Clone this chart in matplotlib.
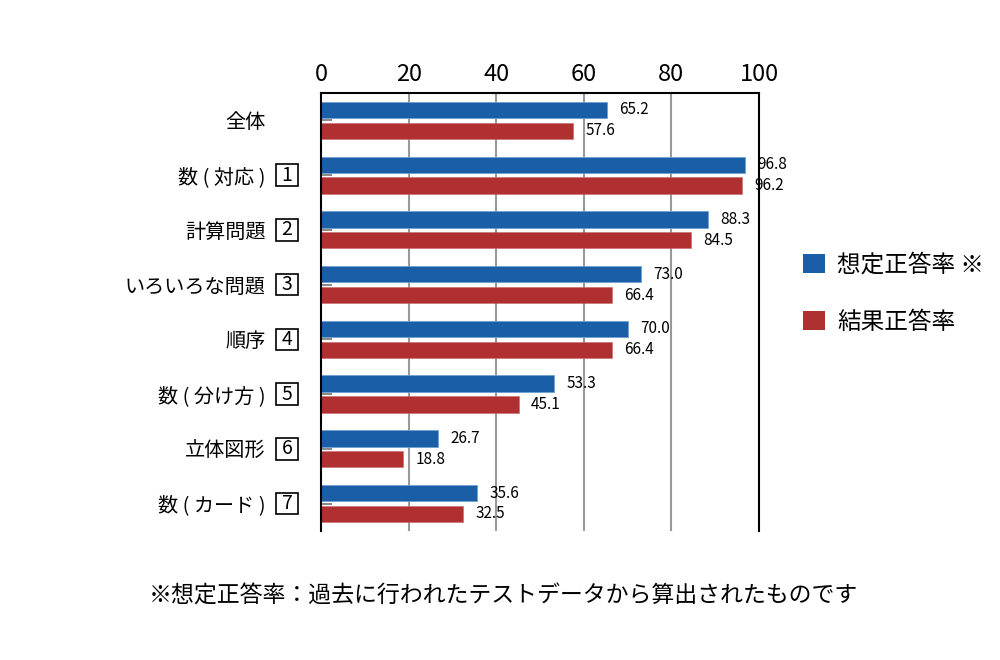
import matplotlib
matplotlib.use("Agg")
import matplotlib.pyplot as plt
from matplotlib.patches import Patch, Rectangle
import numpy as np

plt.rcParams['font.family'] = ['Noto Sans CJK JP', 'DejaVu Sans']

categories = ['全体', '数 ( 対応 )', '計算問題', 'いろいろな問題', '順序', '数 ( 分け方 )', '立体図形', '数 ( カード )']
box_numbers = ['', '1', '2', '3', '4', '5', '6', '7']
expected = [65.2, 96.8, 88.3, 73.0, 70.0, 53.3, 26.7, 35.6]
actual = [57.6, 96.2, 84.5, 66.4, 66.4, 45.1, 18.8, 32.5]
series_names = ['想定正答率 ※', '結果正答率']
x_ticks = [0, 20, 40, 60, 80, 100]
footnote = '※想定正答率：過去に行われたテストデータから算出されたものです'

blue = '#1b5ea8'
red = '#b02f30'

fig = plt.figure(figsize=(10, 6.6), dpi=100)
ax = fig.add_axes([0.321, 0.1955, 0.438, 0.6636])

y = np.arange(len(categories))
h = 0.30
ax.barh(y - 0.19, expected, height=h, color=blue, edgecolor='#6f9fd0', linewidth=0.6, zorder=2)
ax.barh(y + 0.19, actual, height=h, color=red, edgecolor='#c86a6a', linewidth=0.4, zorder=2)

for yi, v in zip(y, expected):
    ax.annotate(f'{v:.1f}', (v, yi - 0.19), xytext=(9, 0), textcoords='offset points',
                va='center', ha='left', fontsize=11)
for yi, v in zip(y, actual):
    ax.annotate(f'{v:.1f}', (v, yi + 0.19), xytext=(9, 0), textcoords='offset points',
                va='center', ha='left', fontsize=11)

ax.set_xlim(0, 100)
ax.set_ylim(len(categories) - 0.5, -0.5)
ax.xaxis.tick_top()
ax.set_xticks(x_ticks)
ax.set_xticklabels([str(t) for t in x_ticks], fontsize=17)
ax.tick_params(axis='x', length=0, pad=5)
ax.set_yticks(y)
ax.set_yticklabels(categories, fontsize=14.5)
ax.tick_params(axis='y', direction='in', length=8, width=1.4, color='#888888', pad=40)

for t in x_ticks[1:-1]:
    ax.axvline(t, color='#999999', linewidth=1.5, zorder=1)

ax.spines['bottom'].set_visible(False)
for s in ['top', 'left', 'right']:
    ax.spines[s].set_linewidth(1.5)
    ax.spines[s].set_color('black')

trans = ax.get_yaxis_transform()
bx = -0.0776
bw = 21.6 / 438.0
bh = 21.6 / 54.75
for yi, n in zip(y, box_numbers):
    if n:
        ax.add_patch(Rectangle((bx - bw / 2, yi - bh / 2), bw, bh, transform=trans,
                               fc='white', ec='black', lw=1.2, clip_on=False))
        ax.text(bx, yi, n, transform=trans, ha='center', va='center', fontsize=14)

handles = [Patch(facecolor=blue), Patch(facecolor=red)]
fig.legend(handles, series_names, loc='center left', bbox_to_anchor=(0.782, 0.555),
           frameon=False, fontsize=17, handlelength=0.9, handleheight=0.9,
           handletextpad=0.55, labelspacing=1.45)

fig.text(0.503, 0.097, footnote, ha='center', va='center', fontsize=16.5)

fig.savefig('out.png', dpi=100)
